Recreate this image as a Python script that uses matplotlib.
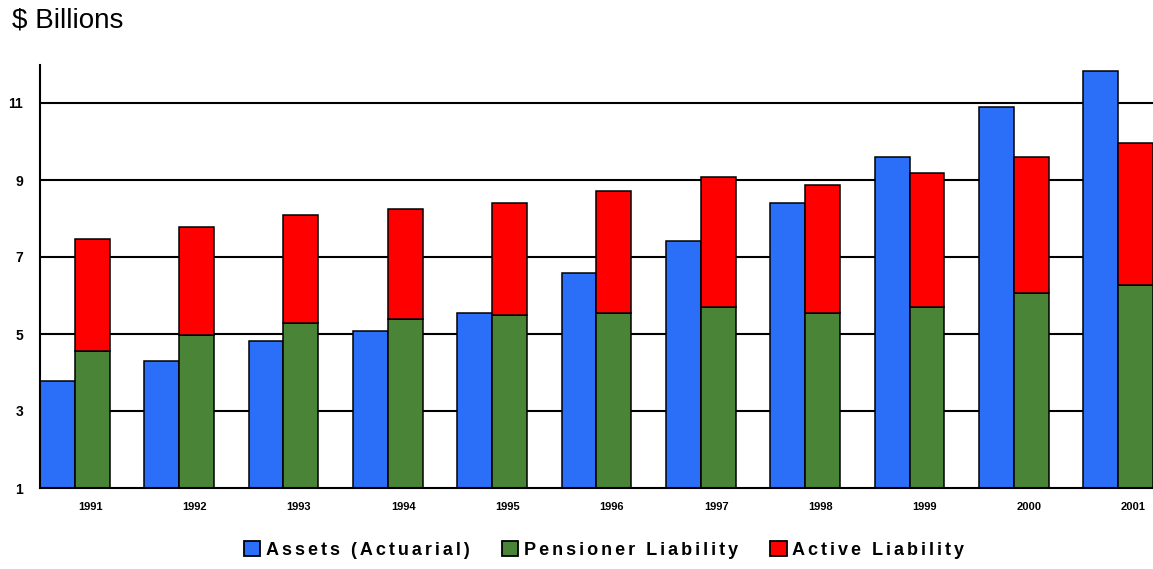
"""
Pension fund assets vs liabilities, 1991-2001 ($ billions).
Grouped bars: actuarial assets next to stacked pensioner + active liability.
"""

import numpy as np
import matplotlib
matplotlib.use("Agg")
import matplotlib.pyplot as plt
from matplotlib.patches import Patch


# =========================
# DATA
# =========================
years = ["1991", "1992", "1993", "1994", "1995", "1996",
         "1997", "1998", "1999", "2000", "2001"]

assets = [3.78, 4.30, 4.82, 5.08, 5.55, 6.59, 7.41, 8.41, 9.60, 10.90, 11.83]
pensioner = [4.57, 4.98, 5.29, 5.39, 5.50, 5.55, 5.70, 5.55, 5.70, 6.07, 6.28]
active = [2.90, 2.80, 2.81, 2.86, 2.91, 3.17, 3.38, 3.32, 3.48, 3.53, 3.68]

series_names = ["Assets (Actuarial)", "Pensioner Liability", "Active Liability"]
y_ticks = [1, 3, 5, 7, 9, 11]

BLUE = "#2B6FF8"
GREEN = "#4A8436"
RED = "#FF0000"

plt.rcParams["font.family"] = ["Liberation Sans", "DejaVu Sans"]


def spaced(s):
    # the original legend uses wide letter spacing
    return "\u200a\u200a".join(s)


# =========================
# FIGURE
# =========================
W, H = 1153, 569
fig = plt.figure(figsize=(W / 100, H / 100), dpi=100)
ax = fig.add_axes([40 / W, 81 / H, 1 - 40 / W, 423.5 / H])

x = np.arange(len(years))
w = 1 / 3

# bars start from 0, the axis floor at 1 clips them
ax.bar(x - w / 2, assets, w, color=BLUE, edgecolor="black", linewidth=1.1, zorder=3)
ax.bar(x + w / 2, pensioner, w, color=GREEN, edgecolor="black", linewidth=1.1, zorder=3)
ax.bar(x + w / 2, active, w, bottom=pensioner, color=RED, edgecolor="black",
       linewidth=1.1, zorder=3)

ax.set_xlim(-w, len(years) - 1 + w)
ax.set_ylim(1, 12)

ax.set_yticks(y_ticks)
ax.set_yticklabels([str(t) for t in y_ticks], fontsize=10, fontweight="bold")
# year labels sit under the liability bar in the original
ax.set_xticks(x + w / 2 - 0.02)
ax.set_xticklabels(years, fontsize=8, fontweight="bold")
ax.tick_params(axis="both", length=0)
ax.tick_params(axis="y", pad=12)
ax.tick_params(axis="x", pad=10)

# horizontal grid lines (skip the floor)
for t in y_ticks[1:]:
    ax.axhline(t, color="black", linewidth=1.5, zorder=1)

for side in ["top", "right"]:
    ax.spines[side].set_visible(False)
for side in ["left", "bottom"]:
    ax.spines[side].set_linewidth(1.5)
    ax.spines[side].set_zorder(4)

fig.text(12 / W, 1 - 21 / H, r"\$ Billions", fontsize=20, va="center", ha="left")

handles = [
    Patch(facecolor=BLUE, edgecolor="black", linewidth=1.3),
    Patch(facecolor=GREEN, edgecolor="black", linewidth=1.3),
    Patch(facecolor=RED, edgecolor="black", linewidth=1.3),
]
fig.legend(handles, [spaced(s) for s in series_names], loc="center",
           bbox_to_anchor=(604 / W, 1 - 550 / H), ncol=3, frameon=False,
           prop={"size": 13, "weight": "bold"}, handlelength=0.9, handleheight=0.9,
           handletextpad=0.3, columnspacing=1.8)

fig.savefig("out.png", dpi=100)
